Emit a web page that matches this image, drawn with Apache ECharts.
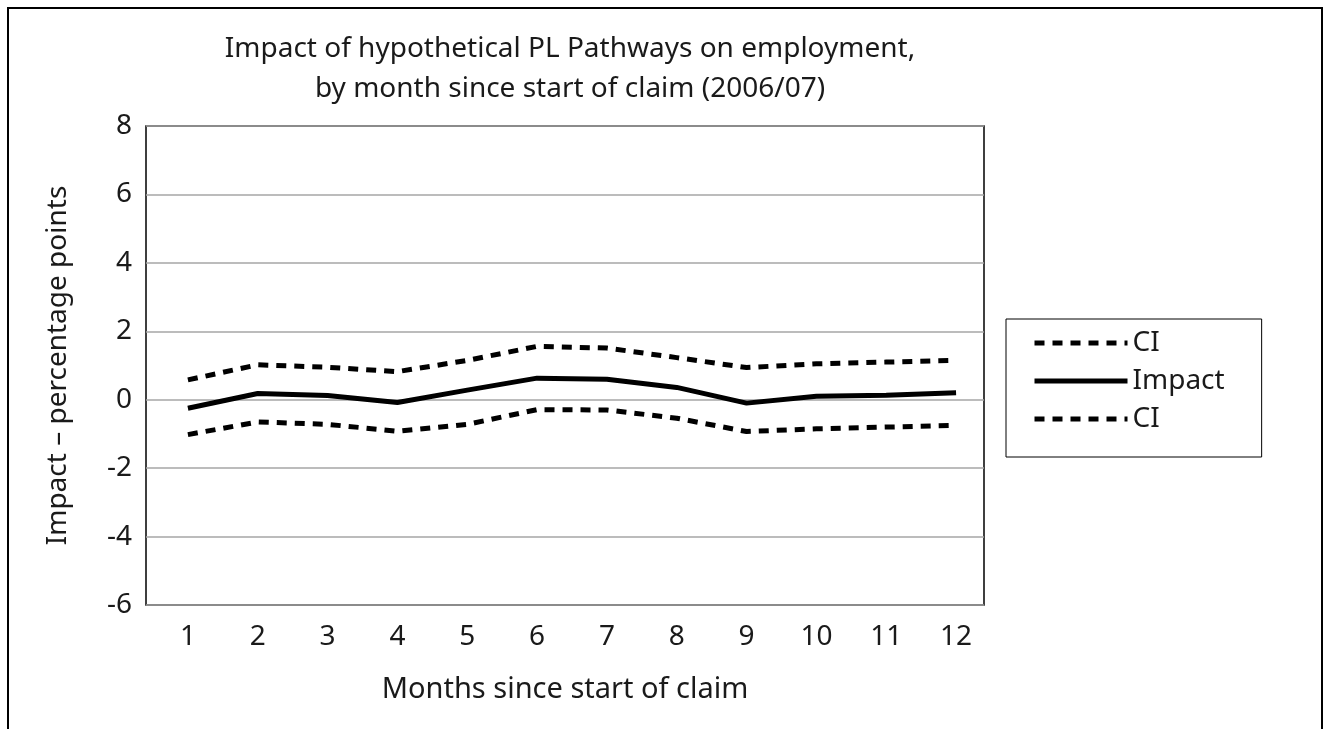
<!DOCTYPE html>
<html>
<head>
<meta charset="utf-8">
<script src="https://cdn.jsdelivr.net/npm/echarts@6/dist/echarts.min.js"></script>
<style>
  html, body { margin: 0; padding: 0; background: #fff; }
  #chart { width: 1325px; height: 729px; }
  #frame {
    position: absolute; left: 7px; top: 7px; width: 1312px; height: 740px;
    border: 2px solid #000; border-bottom: none; pointer-events: none;
  }
</style>
</head>
<body>
<div id="chart"></div>
<div id="frame"></div>
<script>
// 月份（横轴）
const months = [1, 2, 3, 4, 5, 6, 7, 8, 9, 10, 11, 12]
// 置信区间上限
const ciUpper = [0.58, 1.02, 0.95, 0.82, 1.15, 1.56, 1.51, 1.23, 0.94, 1.05, 1.1, 1.15]
// 影响值
const impact = [-0.25, 0.18, 0.12, -0.08, 0.28, 0.63, 0.6, 0.36, -0.1, 0.1, 0.13, 0.2]
// 置信区间下限
const ciLower = [-1.02, -0.65, -0.72, -0.92, -0.72, -0.29, -0.3, -0.54, -0.93, -0.85, -0.8, -0.75]
// 纵轴刻度
const yTicks = { min: -6, max: 8, interval: 2 }

const font = 'Noto Sans'
const ink = '#1a1a1a'

const pairs = (vals) => months.map((m, i) => [m, vals[i]])

const chart = echarts.init(document.getElementById('chart'))

const dashed = { color: '#000', width: 5, type: [10, 8] }
const solid = { color: '#000', width: 5, type: 'solid' }

const option = {
  backgroundColor: '#fff',
  animation: false,
  title: {
    text: 'Impact of hypothetical PL Pathways on employment,\nby month since start of claim (2006/07)',
    left: 565,
    top: 24,
    textAlign: 'center',
    textStyle: {
      fontFamily: font,
      fontWeight: 'normal',
      fontSize: 28,
      lineHeight: 40,
      color: ink
    }
  },
  legend: {
    orient: 'vertical',
    left: 1006,
    top: 319,
    data: ['CI', 'Impact', 'CI '],
    itemWidth: 93,
    itemHeight: 28,
    itemGap: 10,
    padding: [10, 37, 24, 26],
    borderColor: '#000',
    borderWidth: 1,
    itemStyle: { opacity: 0 },
    lineStyle: { width: 'inherit' },
    formatter: (name) => name.trim(),
    textStyle: { fontFamily: font, fontSize: 28, color: ink }
  },
  grid: {
    left: 146,
    top: 126,
    right: 341,
    bottom: 124,
    show: true,
    borderColor: '#000',
    borderWidth: 1.5
  },
  xAxis: {
    type: 'value',
    min: 0.4,
    max: 12.4,
    name: 'Months since start of claim',
    nameLocation: 'middle',
    nameGap: 70,
    nameTextStyle: { fontFamily: font, fontSize: 29, color: ink },
    axisLine: { show: false },
    axisTick: { show: false },
    splitLine: { show: false },
    axisLabel: {
      customValues: months,
      margin: 18,
      fontFamily: font,
      fontSize: 28,
      color: ink
    }
  },
  yAxis: {
    type: 'value',
    min: yTicks.min,
    max: yTicks.max,
    interval: yTicks.interval,
    name: 'Impact – percentage points',
    nameLocation: 'middle',
    nameGap: 74,
    nameTextStyle: { fontFamily: font, fontSize: 28, color: ink },
    axisLine: { show: false },
    axisTick: { show: false },
    splitLine: { lineStyle: { color: '#a6a6a6', width: 1.5 } },
    axisLabel: { margin: 14, fontFamily: font, fontSize: 28, color: ink }
  },
  series: [
    { name: 'CI', type: 'line', symbol: 'none', data: pairs(ciUpper), lineStyle: dashed, itemStyle: { color: '#000' } },
    { name: 'Impact', type: 'line', symbol: 'none', data: pairs(impact), lineStyle: solid, itemStyle: { color: '#000' } },
    { name: 'CI ', type: 'line', symbol: 'none', data: pairs(ciLower), lineStyle: dashed, itemStyle: { color: '#000' } }
  ]
}

chart.setOption(option)
window.addEventListener('resize', () => {
  chart.resize()
})
</script>
</body>
</html>
